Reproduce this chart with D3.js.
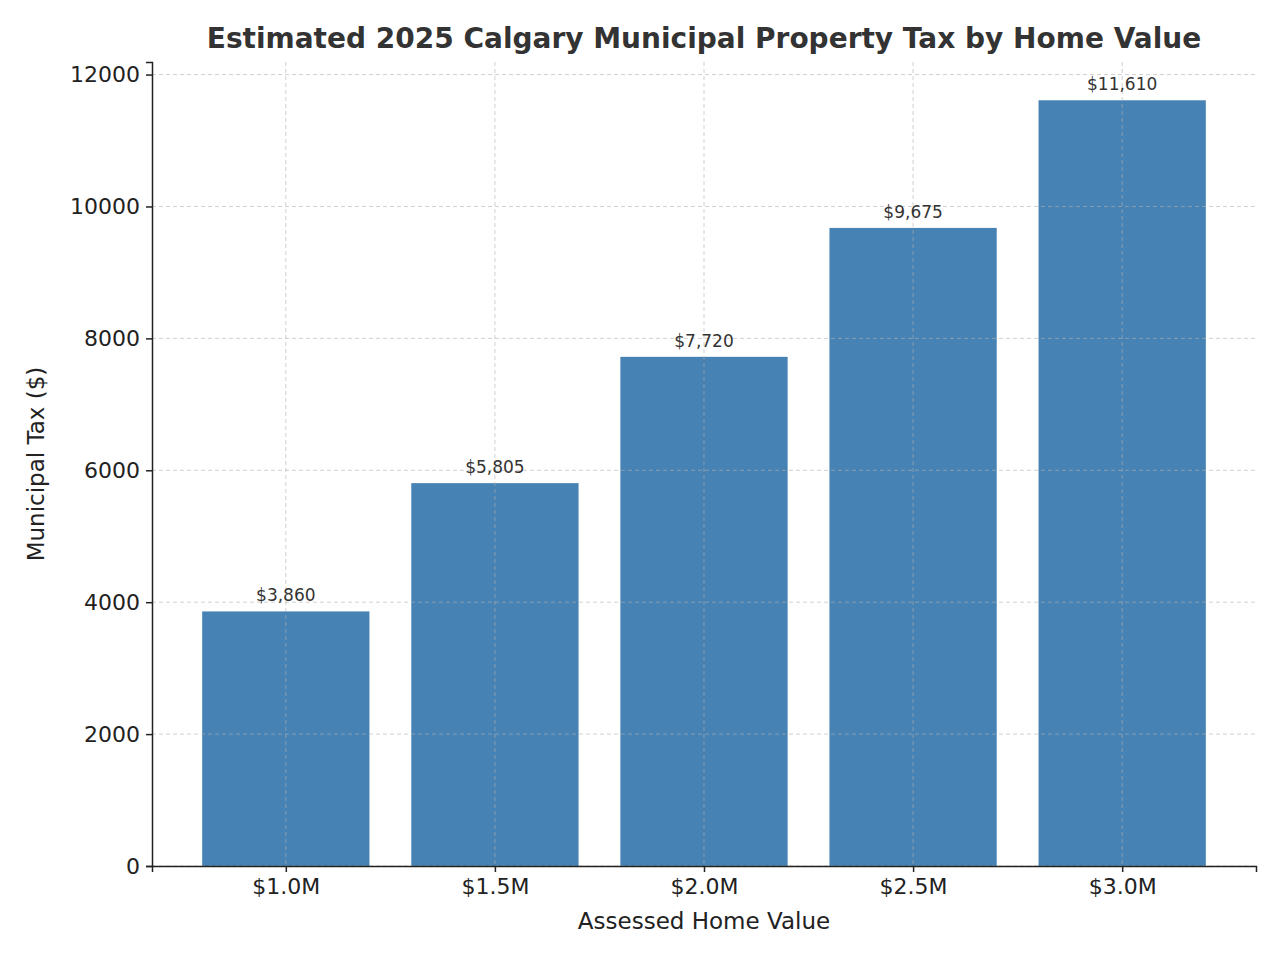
<!DOCTYPE html>
<html><head><meta charset="utf-8">
<script src="https://cdn.jsdelivr.net/npm/d3@7"></script>
<style>body{margin:0;background:#fff}text{font-family:"DejaVu Sans",sans-serif}</style>
</head><body><svg id="c" width="1280" height="960"></svg>
<script>
const categories = ["$1.0M","$1.5M","$2.0M","$2.5M","$3.0M"];
const taxValues = [3860,5805,7720,9675,11610];
const valueLabels = ["$3,860","$5,805","$7,720","$9,675","$11,610"];
const yTicks = [0,2000,4000,6000,8000,10000,12000];

const svg = d3.select("#c");
const L=152,R=1256,T=62,B=866;
const x = d3.scaleLinear().domain([-0.64,4.64]).range([L,R]);
const y = d3.scaleLinear().domain([0,11610*1.05]).range([B,T]);
const bw = x(0.8)-x(0);

svg.selectAll("rect.bar").data(taxValues).enter().append("rect")
  .attr("x",(d,i)=>x(i-0.4)).attr("width",bw)
  .attr("y",d=>y(d)).attr("height",d=>B-y(d)).attr("fill","#4682b4");

const g = svg.append("g");
g.selectAll("line.gy").data(yTicks).enter().append("line")
  .attr("x1",L).attr("x2",R).attr("y1",d=>y(d)).attr("y2",d=>y(d))
  .attr("stroke","#b0b0b0").attr("stroke-opacity",0.6).attr("stroke-dasharray","4,3");
g.selectAll("line.gx").data(categories).enter().append("line")
  .attr("x1",(d,i)=>x(i)).attr("x2",(d,i)=>x(i)).attr("y1",T).attr("y2",B)
  .attr("stroke","#b0b0b0").attr("stroke-opacity",0.6).attr("stroke-dasharray","4,3");

const ya = svg.append("g").attr("transform",`translate(${L},0)`)
  .call(d3.axisLeft(y).tickValues(yTicks).tickSize(6).tickPadding(6).tickFormat(d3.format("d")));
const xa = svg.append("g").attr("transform",`translate(0,${B})`)
  .call(d3.axisBottom(x).tickValues([0,1,2,3,4]).tickSize(6).tickPadding(6).tickFormat(i=>categories[i]));
[ya,xa].forEach(a=>{a.selectAll("text").attr("font-size",22).attr("fill","#222");
  a.selectAll("line,path").attr("stroke","#222").attr("stroke-width",1.5);});

svg.selectAll("text.vl").data(taxValues).enter().append("text")
  .attr("x",(d,i)=>x(i)).attr("y",d=>y(d)-10).attr("text-anchor","middle")
  .attr("font-size",17).attr("fill","#333").text((d,i)=>valueLabels[i]);

svg.append("text").attr("x",704).attr("y",48).attr("text-anchor","middle")
  .attr("font-size",28).attr("font-weight","bold").attr("fill","#333")
  .text("Estimated 2025 Calgary Municipal Property Tax by Home Value");
svg.append("text").attr("x",704).attr("y",929).attr("text-anchor","middle")
  .attr("font-size",23).attr("fill","#222").text("Assessed Home Value");
svg.append("text").attr("transform",`translate(44,${(T+B)/2}) rotate(-90)`).attr("text-anchor","middle")
  .attr("font-size",23).attr("fill","#222").text("Municipal Tax ($)");
</script></body></html>
